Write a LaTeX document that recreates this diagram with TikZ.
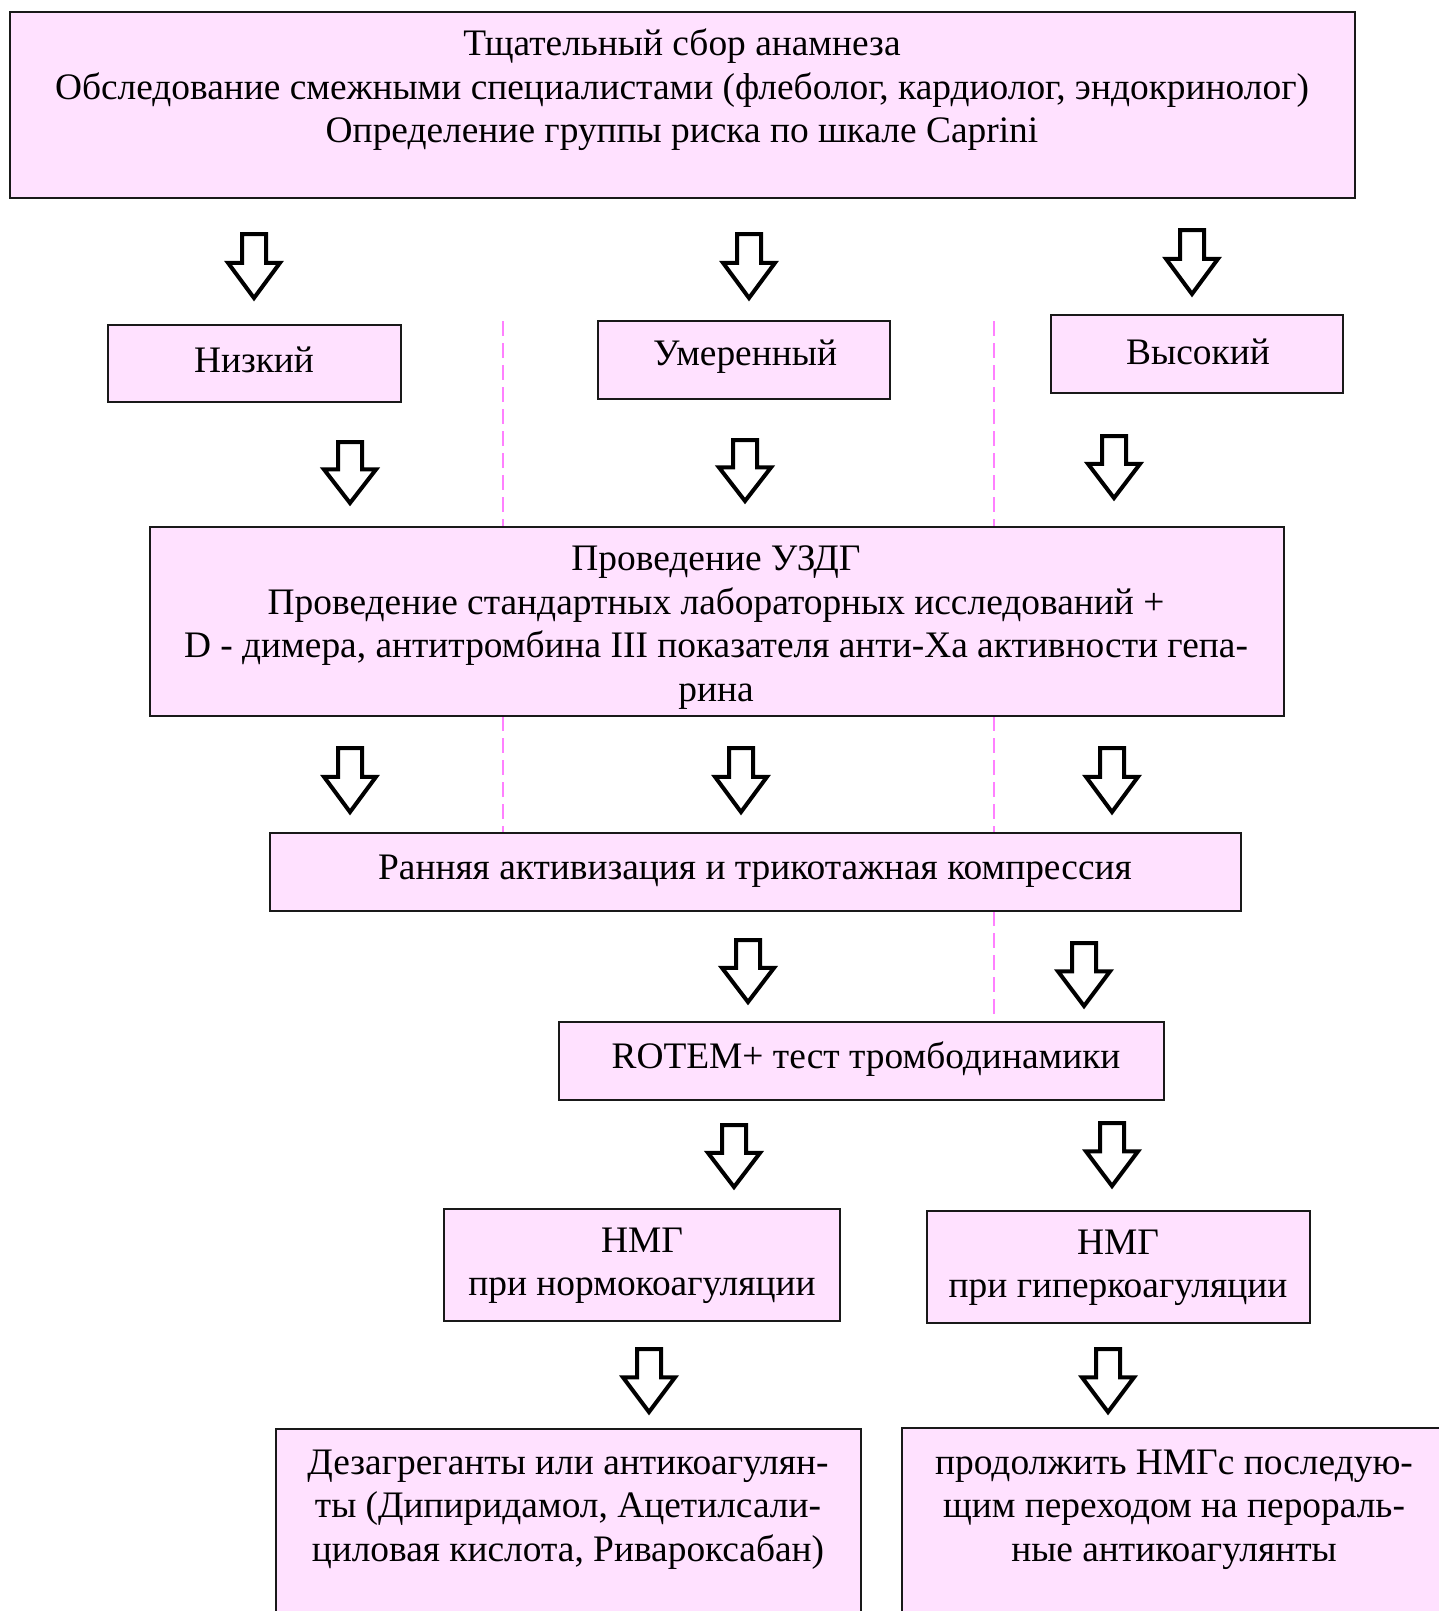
\documentclass[tikz,border=0pt]{standalone}
\usepackage{fontspec}
\setmainfont{Liberation Serif}
\definecolor{boxpink}{RGB}{255,225,255}
\definecolor{dashpink}{RGB}{255,128,255}
\tikzset{
 box/.style={draw=black!90, line width=2pt, fill=boxpink, inner sep=0pt},
 txt/.style={align=center, font=\fontsize{37.4}{43.5}\selectfont, inner sep=0pt},
 sepline/.style={draw=dashpink, line width=2pt, dash pattern=on 15pt off 7pt},
 blk/.style={draw=black, line width=4pt, fill=white, line join=miter, miter limit=10},
}
\newcommand{\blockarrow}[3]{%
 \draw[blk] ({#1-12},#2) -- ({#1+12},#2) -- ({#1+12},{#2+0.45*(#3-#2)}) -- ({#1+26},{#2+0.45*(#3-#2)}) -- (#1,#3) -- ({#1-26},{#2+0.45*(#3-#2)}) -- ({#1-12},{#2+0.45*(#3-#2)}) -- cycle;}
\begin{document}
\begin{tikzpicture}[x=1pt,y=-1pt]
\clip (0,0) rectangle (1439,1611);
\fill[white] (0,0) rectangle (1439,1611);
% separators
\draw[sepline] (503,321) -- (503,527);
\draw[sepline] (503,716) -- (503,833);
\draw[sepline] (994,321) -- (994,527);
\draw[sepline] (994,716) -- (994,833);
\draw[sepline] (994,911) -- (994,1022);
% boxes
\node[box, minimum width=1345pt, minimum height=186pt] (top) at (682.5,105) {};
\node[txt] (toptxt) at (682,90) {Тщательный сбор анамнеза\\Обследование смежными специалистами (флеболог, кардиолог, эндокринолог)\\Определение группы риска по шкале Caprini};
\node[box, minimum width=293pt, minimum height=77pt] (low) at (254.5,363.5) {};
\node[txt] (lowtxt) at (254,360) {Низкий};
\node[box, minimum width=292pt, minimum height=78pt] (mid) at (744,360) {};
\node[txt] (midtxt) at (745,357) {Умеренный};
\node[box, minimum width=292pt, minimum height=78pt] (high) at (1197,354) {};
\node[txt] (hightxt) at (1198,352) {Высокий};
\node[box, minimum width=1134pt, minimum height=189pt] (uzdg) at (717,621.5) {};
\node[txt] (uzdgtxt) at (716,627.5) {Проведение УЗДГ\\Проведение стандартных лабораторных исследований +\\D - димера, антитромбина III показателя анти-Xa активности гепа-\\рина};
\node[box, minimum width=971pt, minimum height=78pt] (early) at (755.5,872) {};
\node[txt] (earlytxt) at (755,871) {Ранняя активизация и трикотажная компрессия};
\node[box, minimum width=605pt, minimum height=78pt] (rotem) at (861.5,1061) {};
\node[txt] (rotemtxt) at (866,1059) {ROTEM+ тест тромбодинамики};
\node[box, minimum width=396pt, minimum height=112pt] (nmg1) at (642,1265) {};
\node[txt] (nmg1txt) at (642,1266) {НМГ\\при нормокоагуляции};
\node[box, minimum width=383pt, minimum height=112pt] (nmg2) at (1118.5,1267) {};
\node[txt] (nmg2txt) at (1118,1268) {НМГ\\при гиперкоагуляции};
\node[box, minimum width=585pt, minimum height=220pt] (res1) at (568.5,1539) {};
\node[txt] (res1txt) at (568,1509.5) {Дезагреганты или антикоагулян-\\ты (Дипиридамол, Ацетилсали-\\циловая кислота, Ривароксабан)};
\node[box, minimum width=550pt, minimum height=222pt] (res2) at (1177,1539) {};
\node[txt] (res2txt) at (1174,1509.5) {продолжить НМГс последую-\\щим переходом на перораль-\\ные антикоагулянты};
% block arrows
\blockarrow{254}{234}{298}
\blockarrow{749}{234}{298}
\blockarrow{1192}{230}{294}
\blockarrow{350}{442}{503}
\blockarrow{745}{440}{501}
\blockarrow{1114}{436}{498}
\blockarrow{350}{748}{812}
\blockarrow{741}{748}{812}
\blockarrow{1112}{748}{812}
\blockarrow{748}{940}{1002}
\blockarrow{1084}{943}{1006}
\blockarrow{734}{1125}{1187}
\blockarrow{1112}{1123}{1186}
\blockarrow{649}{1349}{1412}
\blockarrow{1108}{1349}{1412}
\end{tikzpicture}
\end{document}
